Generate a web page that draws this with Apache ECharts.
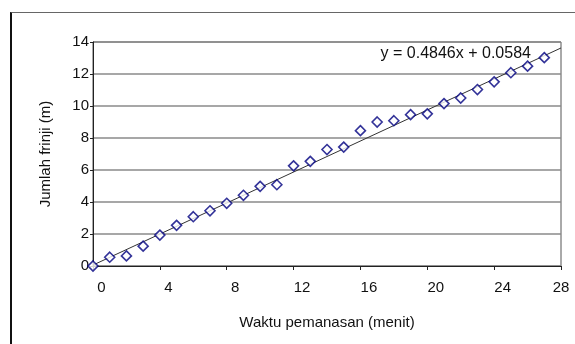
<!DOCTYPE html>
<html>
<head>
<meta charset="utf-8">
<script src="https://cdn.jsdelivr.net/npm/echarts@6/dist/echarts.min.js"></script>
<style>
  html, body { margin: 0; padding: 0; background: #fff; }
  #frame { position: absolute; left: 10px; top: 12px; width: 600px; height: 400px;
           border-left: 2px solid #111; border-top: 1px solid #666; }
  #chart { position: absolute; left: 0; top: 0; width: 575px; height: 344px; }
</style>
</head>
<body>
<div id="frame"></div>
<div id="chart"></div>
<script>
// Heating time (minutes) and counted fringes
const minutes = [0, 1, 2, 3, 4, 5, 6, 7, 8, 9, 10, 11, 12, 13, 14, 15, 16, 17, 18, 19, 20, 21, 22, 23, 24, 25, 26, 27];
const fringes = [0, 0.55, 0.63, 1.24, 1.93, 2.54, 3.08, 3.45, 3.92, 4.42, 4.98, 5.08, 6.26, 6.54, 7.28, 7.43, 8.46, 9.0, 9.08, 9.46, 9.51, 10.15, 10.5, 11.03, 11.51, 12.08, 12.49, 13.02];

// Linear trend line
const slope = 0.4846;
const intercept = 0.0584;
const trendRange = [0, 28];

const xTicks = [0, 4, 8, 12, 16, 20, 24, 28];
const yTicks = [0, 2, 4, 6, 8, 10, 12, 14];

const points = minutes.map((m, i) => [m, fringes[i]]);
const trend = trendRange.map(x => [x, slope * x + intercept]);
const xMax = xTicks[xTicks.length - 1];

const font = 'Liberation Sans, Arial, sans-serif';
const chart = echarts.init(document.getElementById('chart'), null, { renderer: 'canvas' });
chart.setOption({
  animation: false,
  backgroundColor: 'transparent',
  grid: { left: 93, right: 14, top: 42, bottom: 78, show: true, borderColor: '#555', borderWidth: 1 },
  xAxis: {
    type: 'value', min: xTicks[0], max: xMax, interval: 4,
    name: 'Waktu pemanasan (menit)', nameLocation: 'middle', nameGap: 49,
    nameTextStyle: { fontFamily: font, fontSize: 15, color: '#111' },
    axisLine: { show: true, lineStyle: { color: '#222', width: 1 } },
    axisTick: { show: true, length: 4, lineStyle: { color: '#222' } },
    axisLabel: {
      fontFamily: font, fontSize: 15, color: '#111', margin: 14,
      // labels sit a little to the right of their ticks, the last one stays on its tick
      formatter: v => (v === xMax ? '{e|' + v + '}' : '{s|' + v + '}'),
      rich: {
        s: { fontFamily: font, fontSize: 15, color: '#111', padding: [0, 0, 0, 17] },
        e: { fontFamily: font, fontSize: 15, color: '#111' }
      }
    },
    splitLine: { show: false }
  },
  yAxis: {
    type: 'value', min: yTicks[0], max: yTicks[yTicks.length - 1], interval: 2,
    name: 'Jumlah frinji (m)', nameLocation: 'middle', nameGap: 40, nameRotate: 90,
    nameTextStyle: { fontFamily: font, fontSize: 15, color: '#111' },
    axisLine: { show: true, lineStyle: { color: '#222', width: 1 } },
    axisTick: { show: true, length: 3, lineStyle: { color: '#222' } },
    axisLabel: { fontFamily: font, fontSize: 15, color: '#111', margin: 4 },
    splitLine: { show: true, lineStyle: { color: '#8a8a8a', width: 1.5 } }
  },
  series: [
    {
      type: 'line', data: trend, symbol: 'none', silent: true,
      lineStyle: { color: '#333', width: 1 }, z: 2,
      markPoint: {
        symbol: 'rect', symbolSize: 0,
        data: [{ coord: [26.5, 13.9], value: 'y = ' + slope + 'x + ' + intercept }],
        label: { show: true, formatter: p => p.value, fontFamily: font, fontSize: 16, color: '#111', position: 'left', offset: [0, 10] }
      }
    },
    {
      type: 'scatter', data: points, symbol: 'diamond', symbolSize: 10,
      itemStyle: { color: '#fff', borderColor: '#000080', borderWidth: 1.6 }, z: 3
    }
  ]
});
</script>
</body>
</html>
